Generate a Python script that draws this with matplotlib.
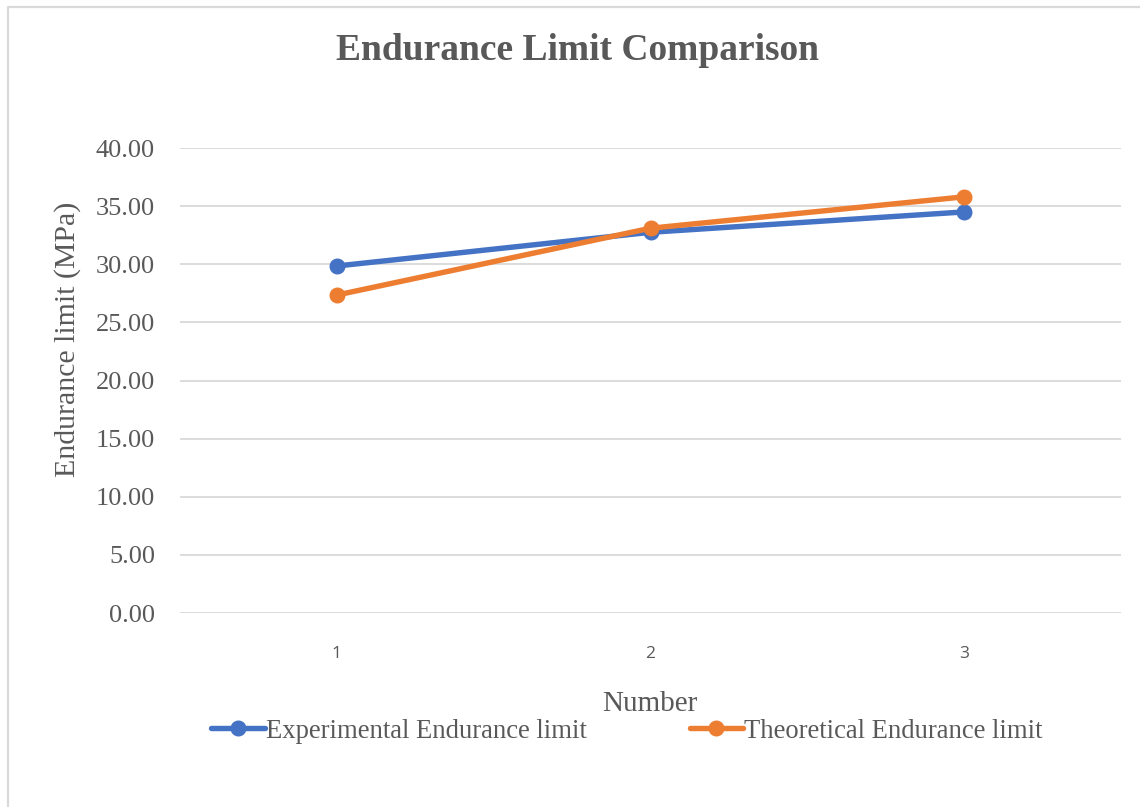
import matplotlib
matplotlib.use("Agg")
import matplotlib.pyplot as plt
from matplotlib.lines import Line2D

numbers = [1, 2, 3]
experimental = [29.85, 32.75, 34.5]
theoretical = [27.35, 33.1, 35.8]
y_ticks = [0, 5, 10, 15, 20, 25, 30, 35, 40]

blue = '#4472C4'
orange = '#ED7D31'
grey_text = '#595959'
grid_col = '#D9D9D9'
serif = 'Liberation Serif'

W, H = 1140, 807
fig = plt.figure(figsize=(W / 100, H / 100), dpi=100)
ax = fig.add_axes([180 / W, 1 - 613 / H, 941 / W, 465 / H])

ax.plot(numbers, experimental, color=blue, lw=3.9, marker='o', ms=10.5,
        solid_capstyle='round', label='Experimental Endurance limit', zorder=3)
ax.plot(numbers, theoretical, color=orange, lw=3.9, marker='o', ms=10.5,
        solid_capstyle='round', label='Theoretical Endurance limit', zorder=3)

ax.set_xlim(0.5, 3.5)
ax.set_ylim(0, 40)
ax.set_yticks(y_ticks)
ax.set_yticklabels([f'{v:.2f}' for v in y_ticks], fontfamily=serif,
                   fontsize=19, color=grey_text)
ax.set_xticks(numbers)
ax.set_xticklabels([str(n) for n in numbers], fontfamily='Open Sans',
                   fontsize=12.5, color=grey_text)
ax.tick_params(axis='y', length=0, pad=18)
ax.tick_params(axis='x', length=0, pad=24)
ax.grid(axis='y', color=grid_col, lw=1.3)
ax.set_axisbelow(True)
for s in ax.spines.values():
    s.set_visible(False)

fig.text(578 / W, 1 - 50 / H, 'Endurance Limit Comparison', ha='center',
         va='center', fontfamily=serif, fontweight='bold', fontsize=27,
         color=grey_text)
fig.text(68 / W, 1 - 339 / H, 'Endurance limit (MPa)', ha='center',
         va='center', rotation=90, fontfamily=serif, fontsize=21.5,
         color=grey_text)
fig.text(650 / W, 1 - 704 / H, 'Number', ha='center', va='center',
         fontfamily=serif, fontsize=21, color=grey_text)

leg = fig.legend(loc='center', bbox_to_anchor=(627 / W, 1 - 731 / H),
                 ncol=2, frameon=False, handlelength=2.0, handletextpad=0.05,
                 columnspacing=3.85, prop={'family': serif, 'size': 19.2})
for t in leg.get_texts():
    t.set_color(grey_text)

# outer chart border (cut off at right and bottom)
fig.add_artist(Line2D([8 / W, 8 / W, 1], [0, 1 - 7 / H, 1 - 7 / H],
                      transform=fig.transFigure, color=grid_col, lw=1.6))

fig.savefig('out.png', dpi=100)
